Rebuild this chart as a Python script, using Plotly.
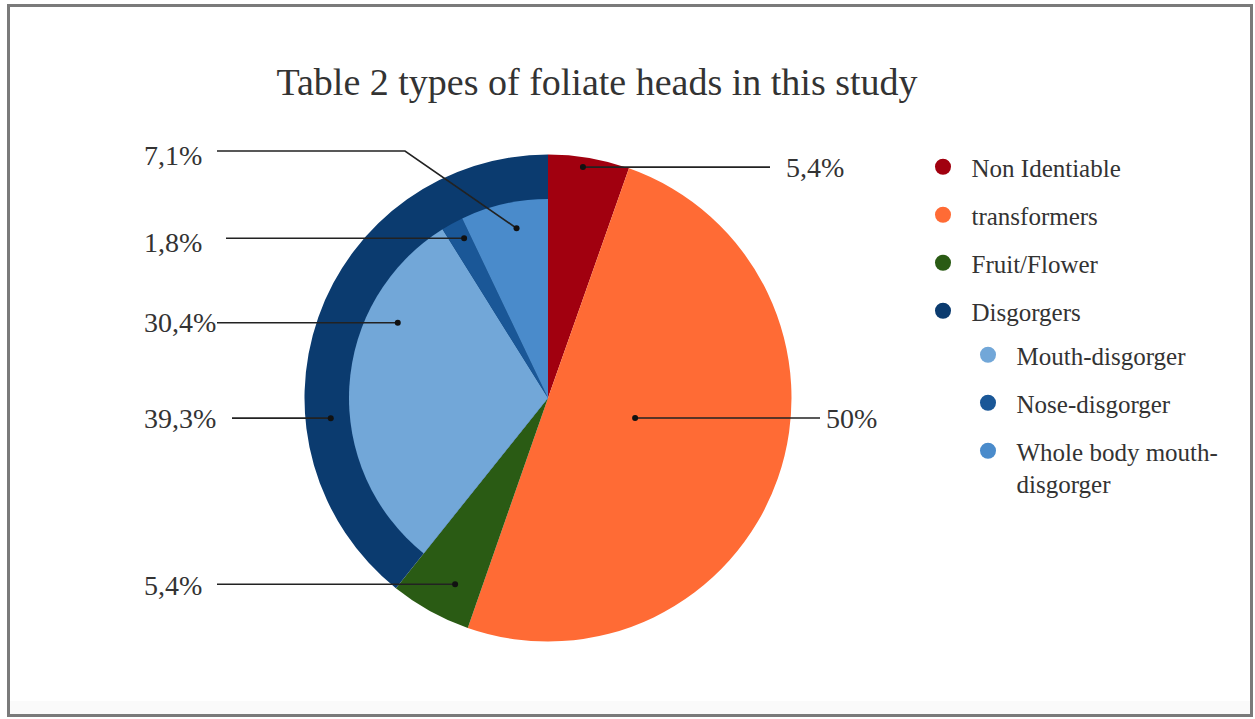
import math
import plotly.graph_objects as go

# ---------------- data ----------------
MAIN_LABELS = ["Non Identiable", "transformers", "Fruit/Flower", "Disgorgers"]
MAIN_VALUES = [5.4, 50.0, 5.4, 39.3]
SUB_LABELS = ["Mouth-disgorger", "Nose-disgorger", "Whole body mouth-disgorger"]
SUB_VALUES = [30.4, 1.8, 7.1]
TITLE = "Table 2 types of foliate heads in this study"

# ---------------- style ----------------
MAIN_COLORS = ["#a1000f", "#ff6b35", "#2a5b14", "#0b3b6f"]
SUB_COLORS = ["#72a7d8", "#1a5797", "#4a8bcb"]
W, H = 1255, 719
PIE_CX, PIE_CY, PIE_R = 548.0, 398.0, 243.5   # pixels
INNER_R = 199.0
FONT = "Liberation Serif, Times New Roman, serif"
TXT = "#333333"

# leader-line dot placement (angle clockwise from 12 o'clock, radius fraction)
DOT_MAIN = [(8.6, 0.959), (102.9, 0.367), (206.5, 0.855), (264.7, 0.896)]
DOT_SUB = [(296.6, 0.690), (332.3, 0.741), (349.5, 0.709)]
# label text centre (px), leader start x near text, optional bend point
LAB_MAIN = [(815, 167, 770, None), (851, 418, 820, None),
            (173, 585, 217, None), (180, 418, 232, None)]
LAB_SUB = [(180, 322, 217, None), (173, 242, 226, None),
           (173, 156, 217, (405, 151))]


def px(x):
    return x / W


def py(y):
    return 1 - y / H


def fmt(v):
    s = f"{v:.1f}"
    if s.endswith(".0"):
        s = s[:-2]
    return s.replace(".", ",") + "%"


fig = go.Figure()

# outer pie
fig.add_trace(go.Pie(
    labels=MAIN_LABELS, values=MAIN_VALUES, sort=False, direction="clockwise",
    rotation=0, marker=dict(colors=MAIN_COLORS, line=dict(width=0)),
    textinfo="none", showlegend=False,
    domain=dict(x=[px(PIE_CX - PIE_R), px(PIE_CX + PIE_R)],
                y=[py(PIE_CY + PIE_R), py(PIE_CY - PIE_R)]),
    hovertemplate="%{label}: %{value}%<extra></extra>"))

# inner pie: disgorger breakdown, other slices transparent
inner_labels = [l + " " for l in MAIN_LABELS[:3]] + SUB_LABELS
inner_values = MAIN_VALUES[:3] + SUB_VALUES
inner_colors = ["rgba(0,0,0,0)"] * 3 + SUB_COLORS
fig.add_trace(go.Pie(
    labels=inner_labels, values=inner_values, sort=False, direction="clockwise",
    rotation=0, marker=dict(colors=inner_colors, line=dict(width=0)),
    textinfo="none", showlegend=False,
    domain=dict(x=[px(PIE_CX - INNER_R), px(PIE_CX + INNER_R)],
                y=[py(PIE_CY + INNER_R), py(PIE_CY - INNER_R)]),
    hovertemplate="%{label}: %{value}%<extra></extra>"))

# legend entries
for i, (lab, col) in enumerate(zip(MAIN_LABELS, MAIN_COLORS)):
    fig.add_trace(go.Scatter(x=[None], y=[None], mode="markers", name=lab,
                             marker=dict(size=16, color=col), legend="legend",
                             legendgroup=f"m{i}"))
for i, (lab, col) in enumerate(zip(SUB_LABELS, SUB_COLORS)):
    name = lab.replace("mouth-disgorger", "mouth-<br>disgorger")
    fig.add_trace(go.Scatter(x=[None], y=[None], mode="markers", name=name,
                             marker=dict(size=16, color=col), legend="legend2",
                             legendgroup=f"s{i}"))

shapes = []
annotations = []


def add_label(value, dot, lab):
    ang, rf = dot
    a = math.radians(ang)
    dx = PIE_CX + rf * PIE_R * math.sin(a)
    dy = PIE_CY - rf * PIE_R * math.cos(a)
    tx, ty, lx, bend = lab
    if bend is None:
        path = f"M {px(lx)} {py(dy)} L {px(dx)} {py(dy)}"
    else:
        path = (f"M {px(lx)} {py(bend[1])} L {px(bend[0])} {py(bend[1])} "
                f"L {px(dx)} {py(dy)}")
    shapes.append(dict(type="path", xref="paper", yref="paper", path=path,
                       line=dict(color="#222222", width=1.6)))
    shapes.append(dict(type="circle", xref="paper", yref="paper",
                       x0=px(dx - 3), x1=px(dx + 3), y0=py(dy + 3), y1=py(dy - 3),
                       fillcolor="#111111", line=dict(width=0)))
    annotations.append(dict(x=px(tx), y=py(ty), xref="paper", yref="paper",
                            text=fmt(value), showarrow=False,
                            xanchor="center", yanchor="middle",
                            font=dict(family=FONT, size=28, color=TXT)))


for v, d, l in zip(MAIN_VALUES, DOT_MAIN, LAB_MAIN):
    add_label(v, d, l)
for v, d, l in zip(SUB_VALUES, DOT_SUB, LAB_SUB):
    add_label(v, d, l)

# faint bottom band and outer frame
shapes.append(dict(type="rect", xref="paper", yref="paper",
                   x0=px(10), x1=px(1250), y0=py(714), y1=py(701),
                   fillcolor="#fafafa", line=dict(width=0), layer="below"))
shapes.append(dict(type="rect", xref="paper", yref="paper",
                   x0=px(8.5), x1=px(1251.5), y0=py(715.5), y1=py(5.5),
                   line=dict(color="#7a7a7a", width=3), layer="below"))

legend_font = dict(family=FONT, size=25, color=TXT)
fig.update_layout(
    width=W, height=H,
    margin=dict(l=0, r=0, t=0, b=0),
    font=dict(family=FONT, color=TXT),
    paper_bgcolor="white", plot_bgcolor="white",
    title=dict(text=TITLE, x=597 / W, xanchor="center", y=py(82), yanchor="middle",
               font=dict(family=FONT, size=38, color=TXT)),
    xaxis=dict(visible=False), yaxis=dict(visible=False),
    shapes=shapes, annotations=annotations,
    legend=dict(x=px(914.5), y=py(144), xanchor="left", yanchor="top",
                font=legend_font, tracegroupgap=12.5, bgcolor="rgba(0,0,0,0)",
                valign="top", itemwidth=47),
    legend2=dict(x=px(959.5), y=py(332), xanchor="left", yanchor="top",
                 font=legend_font, tracegroupgap=12.5, bgcolor="rgba(0,0,0,0)",
                 valign="top", itemwidth=47),
)

fig.write_html("out.html")
